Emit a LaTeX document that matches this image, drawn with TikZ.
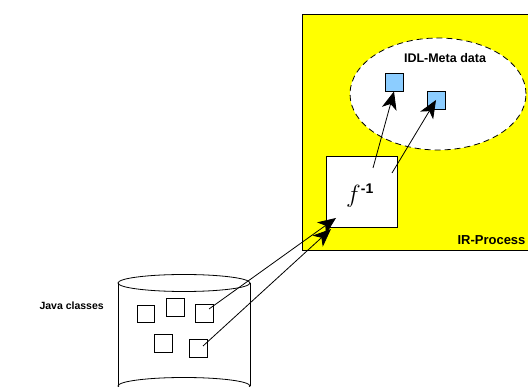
\documentclass[tikz,border=0pt]{standalone}
\usepackage{fontspec}
\setsansfont{Liberation Sans}
\usepackage{tikz}
\usetikzlibrary{positioning,shapes.geometric,arrows.meta}

\definecolor{procyellow}{RGB}{255,255,0}
\definecolor{metablue}{RGB}{140,205,255}

\tikzset{
  lbl/.style={font=\sffamily\bfseries\fontsize{10.5}{12}\selectfont},
  cls/.style={draw,fill=white,minimum size=18pt,inner sep=0pt,line width=0.8pt},
  meta/.style={draw,fill=metablue,minimum size=18pt,inner sep=0pt,line width=0.8pt},
  conv/.style={-{Stealth[length=18pt,width=15pt,inset=5pt]},line width=0.8pt}
}

\begin{document}
\begin{tikzpicture}[x=1pt,y=-1pt]
\useasboundingbox (0,0) rectangle (528,387);
% IR process
\path[draw,fill=procyellow,line width=0.8pt](302,14) rectangle (545,250);
\node[lbl,font=\sffamily\bfseries\fontsize{13}{14}\selectfont,anchor=west](ir) at (454,240){IR-Process};
\node[ellipse,draw,dashed,dash pattern=on 6pt off 4pt,fill=white,minimum width=176pt,minimum height=112pt,line width=0.8pt](md) at (438,94){};
\node[lbl,font=\sffamily\bfseries\fontsize{12.5}{14}\selectfont](mdl) at (445,58){IDL-Meta data};
\node[meta](m1) at (394,82){};
\node[meta](m2) at (436,100){};
\node[draw,fill=white,minimum size=71pt,inner sep=0pt,line width=0.8pt](f) at (361.5,192){};
\node(fl) at (360,196){\fontsize{24}{26}\selectfont$f^{\textbf{\sffamily\fontsize{14}{15}\selectfont -1}}$};
% Java classes
\path[draw,line width=0.8pt](118,283)--(118,386);
\path[draw,line width=0.8pt](250,283)--(250,386);
\path[draw,fill=white,line width=0.8pt](184,386) ellipse (66pt and 8.5pt);
\path[draw,line width=0.8pt](184,283) ellipse (66pt and 8.5pt);
\node[lbl,anchor=west](jc) at (36,306){Java classes};
\node[cls,minimum size=17pt](c1) at (145.5,313.5){};
\node[cls](c2) at (175,307.5){};
\node[cls](c3) at (204.5,313){};
\node[cls](c4) at (163,343){};
\node[cls](c5) at (198.5,348.5){};
% arrows
\coordinate(s1) at (209,309);
\coordinate(s2) at (203,346);
\coordinate(t1) at (336,218);
\coordinate(t2) at (331,229);
\coordinate(s3) at (373,168);
\coordinate(s4) at (392,173);
\path[conv,draw](s1)--(t1);
\path[conv,draw](s2)--(t2);
\path[conv,draw](s3)--(m1.south);
\path[conv,draw](s4)--(m2.center);
\end{tikzpicture}
\end{document}
